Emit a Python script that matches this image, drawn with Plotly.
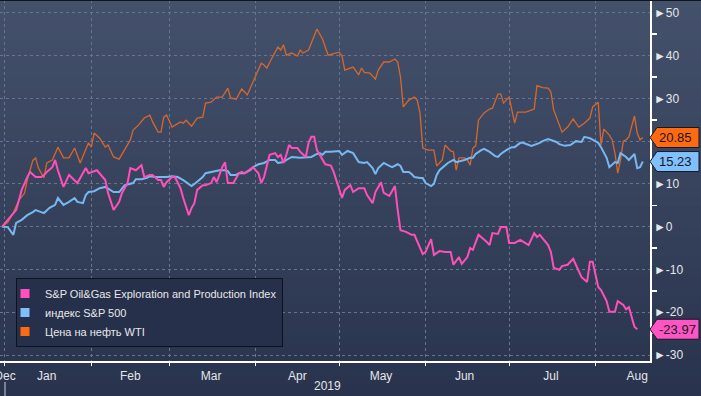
import plotly.graph_objects as go

# ---------------- data ----------------
wti_dates = ["2018-12-31","2019-01-02","2019-01-04","2019-01-06","2019-01-08","2019-01-09","2019-01-11","2019-01-12","2019-01-13","2019-01-15",
"2019-01-16","2019-01-18","2019-01-20","2019-01-22","2019-01-24","2019-01-26","2019-01-28","2019-01-31","2019-02-01","2019-02-02",
"2019-02-04","2019-02-06","2019-02-07","2019-02-09","2019-02-11","2019-02-15","2019-02-16","2019-02-18","2019-02-20","2019-02-22",
"2019-02-23","2019-02-25","2019-02-26","2019-02-27","2019-02-28","2019-03-02","2019-03-05","2019-03-06","2019-03-07","2019-03-09",
"2019-03-11","2019-03-13","2019-03-14","2019-03-16","2019-03-18","2019-03-20","2019-03-22","2019-03-23","2019-03-25","2019-03-27",
"2019-03-29","2019-03-31","2019-04-03","2019-04-04","2019-04-05","2019-04-07","2019-04-09","2019-04-10","2019-04-11","2019-04-12",
"2019-04-14","2019-04-16","2019-04-17","2019-04-18","2019-04-20","2019-04-23","2019-04-25","2019-04-27","2019-04-29","2019-05-01",
"2019-05-02","2019-05-03","2019-05-06","2019-05-08","2019-05-09","2019-05-10","2019-05-12","2019-05-14","2019-05-15","2019-05-17",
"2019-05-19","2019-05-21","2019-05-22","2019-05-23","2019-05-24","2019-05-26","2019-05-28","2019-05-29","2019-05-30","2019-05-31",
"2019-06-02","2019-06-04","2019-06-05","2019-06-07","2019-06-08","2019-06-10","2019-06-11","2019-06-12","2019-06-13","2019-06-15",
"2019-06-16","2019-06-17","2019-06-18","2019-06-19","2019-06-20","2019-06-22","2019-06-24","2019-06-25","2019-06-27","2019-06-28",
"2019-06-29","2019-07-01","2019-07-03","2019-07-04","2019-07-07","2019-07-10","2019-07-11","2019-07-13","2019-07-15","2019-07-16",
"2019-07-17","2019-07-18","2019-07-20","2019-07-22","2019-07-24","2019-07-26","2019-07-28","2019-07-30","2019-07-31","2019-08-02",
"2019-08-03","2019-08-04","2019-08-06","2019-08-07","2019-08-08","2019-08-09","2019-08-10","2019-08-11","2019-08-12","2019-08-13",
"2019-08-15","2019-08-16","2019-08-17","2019-08-18"]
wti_vals = [0,1.0,3.2,6.2,7.8,10.9,15.5,16.1,13.7,11.4,
14.9,15.6,18.6,16.1,16.1,18.4,14.9,19.6,18.6,21.9,
20.7,18.6,19.1,16.3,15.8,20.3,22.6,23.8,25.4,26.1,
24.5,22.1,22.1,25.6,26.1,23.3,24.5,24.2,24.9,23.5,
25.4,25.6,28.9,29.1,30.3,30.3,32.4,30.1,29.8,32.2,
30.8,33.6,38.2,37.8,37.1,39.6,42.0,41.3,42.5,40.1,
40.6,39.9,41.3,40.6,41.3,46.2,43.9,40.1,40.4,40.8,
39.9,36.6,37.3,35.5,37.1,36.1,35.9,34.5,36.6,38.5,
38.5,39.2,38.5,35.0,28.0,29.6,30.3,29.6,26.6,18.4,
17.9,17.9,14.2,15.6,19.1,17.7,17.5,13.2,16.1,16.1,
15.6,14.4,18.4,18.9,24.9,26.6,27.5,27.7,31.0,31.0,
28.9,30.3,24.2,26.8,26.8,27.5,33.0,32.5,32.4,31.5,
27.3,25.4,22.1,23.3,25.2,23.3,24.2,25.4,28.0,29.1,
19.1,22.8,21.4,20.3,17.2,12.5,15.6,20.0,20.3,21.0,
25.9,21.9,20.3,20.85]

oilgas_dates = ["2018-12-31","2019-01-05","2019-01-06","2019-01-07","2019-01-09","2019-01-10","2019-01-12","2019-01-14","2019-01-15","2019-01-16",
"2019-01-18","2019-01-19","2019-01-20","2019-01-22","2019-01-24","2019-01-27","2019-01-30","2019-01-31","2019-02-03","2019-02-06",
"2019-02-07","2019-02-09","2019-02-11","2019-02-12","2019-02-14","2019-02-15","2019-02-17","2019-02-19","2019-02-20","2019-02-22",
"2019-02-23","2019-02-25","2019-02-26","2019-02-27","2019-02-28","2019-03-02","2019-03-03","2019-03-05","2019-03-06","2019-03-08",
"2019-03-09","2019-03-10","2019-03-11","2019-03-13","2019-03-14","2019-03-16","2019-03-17","2019-03-18","2019-03-20","2019-03-21",
"2019-03-22","2019-03-24","2019-03-26","2019-03-27","2019-03-28","2019-03-31","2019-04-02","2019-04-03","2019-04-04","2019-04-05",
"2019-04-06","2019-04-08","2019-04-09","2019-04-10","2019-04-11","2019-04-12","2019-04-13","2019-04-14","2019-04-16","2019-04-17",
"2019-04-19","2019-04-20","2019-04-21","2019-04-22","2019-04-23","2019-04-26","2019-04-28","2019-04-29","2019-05-01","2019-05-02",
"2019-05-03","2019-05-05","2019-05-06","2019-05-08","2019-05-10","2019-05-11","2019-05-13","2019-05-14","2019-05-16","2019-05-17",
"2019-05-19","2019-05-21","2019-05-22","2019-05-23","2019-05-25","2019-05-27","2019-05-28","2019-05-30","2019-05-31","2019-06-01",
"2019-06-03","2019-06-04","2019-06-06","2019-06-08","2019-06-10","2019-06-11","2019-06-13","2019-06-14","2019-06-16","2019-06-17",
"2019-06-18","2019-06-20","2019-06-21","2019-06-23","2019-06-24","2019-06-25","2019-06-27","2019-06-28","2019-06-30","2019-07-01",
"2019-07-03","2019-07-05","2019-07-08","2019-07-10","2019-07-11","2019-07-12","2019-07-15","2019-07-16","2019-07-17","2019-07-19",
"2019-07-20","2019-07-22","2019-07-24","2019-07-26","2019-07-27","2019-07-29","2019-07-30","2019-07-31","2019-08-02","2019-08-03",
"2019-08-05","2019-08-06","2019-08-08","2019-08-09","2019-08-11","2019-08-12","2019-08-13","2019-08-15","2019-08-16"]
oilgas_vals = [0,3.9,6.2,8.6,11.6,12.8,11.6,11.6,12.1,12.8,
13.9,15.6,13.2,9.3,12.1,10.2,13.7,12.5,13.2,10.9,
7.9,3.9,5.8,7.9,10.2,13.7,13.2,14.4,11.6,12.1,
12.1,10.9,10.9,9.3,10.4,11.6,11.6,9.0,6.7,2.7,
4.4,5.5,8.6,9.7,9.7,10.2,11.6,10.4,13.9,15.1,
10.2,10.2,12.5,12.8,12.5,13.9,12.5,10.2,11.6,13.9,
16.8,17.2,16.3,16.8,14.9,16.8,19.1,18.4,18.4,17.5,
16.3,19.6,21.0,21.0,17.9,14.6,14.3,12.8,9.0,6.7,
8.6,9.7,8.1,9.0,9.0,7.4,5.5,8.1,10.4,7.9,
7.2,9.5,3.9,-0.8,-1.2,-1.9,-1.9,-4.7,-6.4,-5.9,
-2.9,-6.6,-5.7,-5.9,-5.9,-8.9,-7.1,-8.7,-7.1,-5.0,
-5.4,-1.9,-2.4,-3.6,-4.3,-1.5,-1.7,-0.1,-0.1,-3.8,
-3.8,-3.1,-4.3,-1.5,-2.4,-1.9,-4.3,-5.9,-9.6,-10.1,
-9.2,-8.9,-7.5,-10.6,-11.8,-12.9,-8.2,-8.2,-14.1,-14.8,
-17.4,-19.9,-19.9,-17.4,-18.3,-19.3,-18.8,-23.4,-23.97]

spx_dates = ["2018-12-31","2019-01-02","2019-01-04","2019-01-05","2019-01-07","2019-01-09","2019-01-11","2019-01-12","2019-01-14","2019-01-15",
"2019-01-17","2019-01-19","2019-01-20","2019-01-21","2019-01-22","2019-01-24","2019-01-26","2019-01-27","2019-01-29","2019-01-30",
"2019-01-31","2019-02-02","2019-02-04","2019-02-06","2019-02-09","2019-02-11","2019-02-13","2019-02-16","2019-02-17","2019-02-19",
"2019-02-21","2019-02-22","2019-02-24","2019-02-27","2019-02-28","2019-03-02","2019-03-04","2019-03-06","2019-03-09","2019-03-10",
"2019-03-13","2019-03-14","2019-03-16","2019-03-18","2019-03-19","2019-03-21","2019-03-22","2019-03-23","2019-03-25","2019-03-26",
"2019-03-28","2019-03-30","2019-03-31","2019-04-02","2019-04-04","2019-04-06","2019-04-08","2019-04-09","2019-04-11","2019-04-12",
"2019-04-14","2019-04-17","2019-04-21","2019-04-23","2019-04-24","2019-04-25","2019-04-26","2019-04-28","2019-05-01","2019-05-02",
"2019-05-04","2019-05-06","2019-05-08","2019-05-10","2019-05-11","2019-05-13","2019-05-14","2019-05-15","2019-05-17","2019-05-19",
"2019-05-20","2019-05-22","2019-05-23","2019-05-24","2019-05-26","2019-05-27","2019-05-28","2019-05-30","2019-05-31","2019-06-01",
"2019-06-03","2019-06-04","2019-06-05","2019-06-06","2019-06-07","2019-06-09","2019-06-11","2019-06-12","2019-06-15","2019-06-17",
"2019-06-18","2019-06-19","2019-06-21","2019-06-22","2019-06-24","2019-06-26","2019-06-27","2019-06-28","2019-06-30","2019-07-02",
"2019-07-03","2019-07-05","2019-07-06","2019-07-09","2019-07-12","2019-07-13","2019-07-15","2019-07-18","2019-07-19","2019-07-21",
"2019-07-23","2019-07-24","2019-07-25","2019-07-27","2019-07-28","2019-07-30","2019-07-31","2019-08-02","2019-08-03","2019-08-04",
"2019-08-05","2019-08-06","2019-08-08","2019-08-09","2019-08-10","2019-08-12","2019-08-13","2019-08-15","2019-08-16","2019-08-17",
"2019-08-18"]
spx_vals = [0,-0.1,-1.9,0.9,1.6,2.7,3.4,3.9,3.4,3.2,
4.4,5.1,6.7,5.8,5.1,5.8,6.7,5.8,5.5,7.4,
8.1,8.3,9.0,9.3,8.1,8.1,9.7,10.2,11.1,11.1,
11.4,11.8,11.6,11.6,11.6,11.8,11.6,10.9,9.5,10.0,
11.6,12.5,12.8,13.2,13.2,13.2,13.0,12.1,12.1,12.5,
12.5,13.2,13.9,14.6,14.9,15.6,15.6,14.9,15.1,15.6,
16.3,16.1,16.3,17.0,17.2,16.8,17.5,17.5,17.7,16.8,
17.7,17.2,15.1,14.9,15.1,13.7,12.3,13.7,14.9,14.2,
13.9,14.6,14.2,12.8,12.8,12.3,11.6,11.4,11.4,10.2,
9.5,10.0,12.1,13.2,13.7,14.9,15.6,15.1,15.6,16.1,
16.1,17.0,17.9,18.2,17.5,16.5,16.3,17.0,17.9,18.6,
18.6,19.6,19.6,18.9,19.6,20.0,20.5,19.8,19.3,18.9,
19.1,19.6,20.0,19.8,21.0,20.7,20.3,19.6,18.6,17.5,
16.1,13.9,15.1,14.9,17.2,16.3,15.6,17.0,13.7,13.9,
15.23]

series_names = ["S&P Oil&Gas Exploration and Production Index", "индекс S&P 500", "Цена на нефть WTI"]
line_colors = ["#ff4fb9", "#78b8f2", "#d8672b"]
swatch_colors = ["#ff4fc0", "#7fbfff", "#ff6a10"]
label_colors = ["#ff55c4", "#80c0ff", "#ff6a10"]

month_starts = ["2019-01-01","2019-02-01","2019-03-01","2019-04-01","2019-05-01","2019-06-01","2019-07-01","2019-08-01"]
month_label_pos = ["2019-01-01","2019-01-16","2019-02-15","2019-03-16","2019-04-16","2019-05-16","2019-06-15","2019-07-16","2019-08-16"]
month_labels = ["Dec","Jan","Feb","Mar","Apr","May","Jun","Jul","Aug"]
year_label = "2019"
y_ticks = [-30, -20, -10, 0, 10, 20, 30, 40, 50]

x_range = ["2018-12-30 05:00", "2019-08-20 14:00"]
y_range = [-31.4, 53.0]

# ---------------- figure ----------------
W, H = 701, 396
ML, MR, MT, MB = 0, 51, 0, 35
PW, PH = W - ML - MR, H - MT - MB
FONT = "Liberation Sans, Arial, sans-serif"

fig = go.Figure()

# lines (orange bottom, then blue, then pink)
fig.add_trace(go.Scatter(x=wti_dates, y=wti_vals, mode="lines", name=series_names[2],
                         line=dict(color=line_colors[2], width=1.3), showlegend=False, hoverinfo="skip"))
fig.add_trace(go.Scatter(x=spx_dates, y=spx_vals, mode="lines", name=series_names[1],
                         line=dict(color=line_colors[1], width=2), showlegend=False, hoverinfo="skip"))
fig.add_trace(go.Scatter(x=oilgas_dates, y=oilgas_vals, mode="lines", name=series_names[0],
                         line=dict(color=line_colors[0], width=2), showlegend=False, hoverinfo="skip"))

# legend entries with square swatches
for name, col in zip(series_names, swatch_colors):
    fig.add_trace(go.Scatter(x=[None], y=[None], mode="markers", name=name,
                             marker=dict(symbol="square", size=9, color=col, line=dict(width=0))))

shapes = []
# gradient background (whole picture)
N = 40
top = (0x44, 0x51, 0x6b)
bot = (0x29, 0x33, 0x4e)
y_lo, y_hi = -MB / PH, 1.0
for i in range(N):
    t = i / (N - 1)
    c = tuple(round(top[k] + (bot[k] - top[k]) * t) for k in range(3))
    y1 = y_hi - (y_hi - y_lo) * i / N
    y0 = y_hi - (y_hi - y_lo) * (i + 1) / N
    shapes.append(dict(type="rect", xref="paper", yref="paper", x0=-0.01, x1=W / PW + 0.01,
                       y0=y0 - 0.002, y1=y1 + 0.002, fillcolor="rgb(%d,%d,%d)" % c,
                       line=dict(width=0), layer="below"))
# top dark border
shapes.append(dict(type="line", xref="paper", yref="paper", x0=0, x1=W / PW, y0=1, y1=1,
                   line=dict(color="#10141c", width=2)))
# year separator
shapes.append(dict(type="line", xref="x", yref="paper", x0=month_starts[0], x1=month_starts[0],
                   y0=-21 / PH, y1=-MB / PH, line=dict(color="#c8ced8", width=1)))

annotations = []
# last-value boxes on the right axis
last_vals = [oilgas_vals[-1], spx_vals[-1], wti_vals[-1]]
h = 10 / (PH / (y_range[1] - y_range[0]))
xa, xb, xc = 1.0, 1.0 + 7 / PW, 1.0 + 49 / PW
for v, col in zip(last_vals, label_colors):
    shapes.append(dict(type="path", xref="paper", yref="y",
                       path=f"M {xa},{v} L {xb},{v + h} L {xc},{v + h} L {xc},{v - h} L {xb},{v - h} Z",
                       fillcolor=col, line=dict(color="#151922", width=1), layer="above"))
    annotations.append(dict(x=xb, y=v, xref="paper", yref="y", xanchor="left", yanchor="middle",
                            text=f"{v:.2f}", showarrow=False,
                            font=dict(family=FONT, size=13, color="#14161c")))

annotations.append(dict(x=327 / PW, y=-25 / PH, xref="paper", yref="paper", text=year_label,
                        showarrow=False, xanchor="center", yanchor="middle",
                        font=dict(family=FONT, size=12, color="#e4e6ea")))

# tick labels hidden where a last-value box covers them
y_ticktext = ["" if any(abs(v - lv) < 3 for lv in last_vals) else "►" + str(v) for v in y_ticks]

grid_col = "#66768f"
fig.update_layout(
    width=W, height=H,
    margin=dict(l=ML, r=MR, t=MT, b=MB, pad=0, autoexpand=False),
    paper_bgcolor="#29334e",
    plot_bgcolor="rgba(0,0,0,0)",
    font=dict(family=FONT, size=12, color="#e4e6ea"),
    shapes=shapes,
    annotations=annotations,
    showlegend=True,
    legend=dict(x=16 / PW, y=1 - 278 / PH, xanchor="left", yanchor="top",
                bgcolor="#27304a", bordercolor="#0e121a", borderwidth=1,
                font=dict(family=FONT, size=11, color="#e8e8ea"),
                itemwidth=30, indentation=-12, tracegroupgap=0),
    xaxis=dict(type="date", range=x_range, tickvals=month_starts, showticklabels=False,
               ticks="outside", ticklen=3, tickcolor="#ffffff", tickwidth=1,
               showgrid=True, gridcolor=grid_col, griddash="dot", gridwidth=1,
               showline=True, linecolor="#ffffff", linewidth=1.5, zeroline=False,
               fixedrange=True, automargin=False),
    xaxis2=dict(type="date", range=x_range, overlaying="x", anchor="y", side="bottom",
                tickvals=month_label_pos, ticktext=month_labels, ticks="outside", ticklen=4,
                tickcolor="rgba(0,0,0,0)", showgrid=False, showline=False, zeroline=False,
                ticklabeloverflow="allow", automargin=False,
                tickfont=dict(size=12, color="#e4e6ea")),
    yaxis=dict(range=y_range, side="right", tickvals=y_ticks, ticktext=y_ticktext,
               ticks="", showgrid=True, gridcolor=grid_col, griddash="dot", gridwidth=1,
               showline=True, linecolor="#ffffff", linewidth=1.5, zeroline=False, automargin=False,
               tickfont=dict(size=12, color="#e4e6ea"),
               minor=dict(tickvals=[v + 5 for v in y_ticks[:-1]], ticks="outside", ticklen=5,
                          tickcolor="#ffffff", tickwidth=1.5, showgrid=False)),
)
# keep xaxis2 drawn
fig.add_trace(go.Scatter(x=[None], y=[None], xaxis="x2", showlegend=False, hoverinfo="skip"))

fig.write_html("out.html", config={"displayModeBar": False, "staticPlot": True})

# remove the browser's default page margin so the chart fills the window
with open("out.html", "r", encoding="utf-8") as f:
    html = f.read()
html = html.replace("<head>", "<head><style>html,body{margin:0;padding:0;overflow:hidden;background:#29334e;}</style>", 1)
with open("out.html", "w", encoding="utf-8") as f:
    f.write(html)
